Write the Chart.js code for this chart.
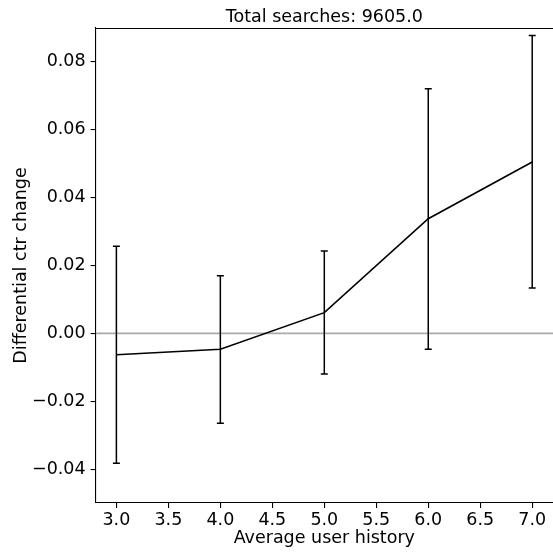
<!DOCTYPE html>
<html>
<head>
<meta charset="utf-8">
<script src="https://cdn.jsdelivr.net/npm/chart.js@4/dist/chart.umd.min.js"></script>
<style>
  html, body { margin: 0; padding: 0; background: #ffffff; }
  #wrap { width: 553px; height: 552px; }
</style>
</head>
<body>
<div id="wrap"><canvas id="c" width="553" height="552"></canvas></div>
<script>
// Average user history levels and the differential CTR change at each
const historyLevels = [3.0, 4.0, 5.0, 6.0, 7.0];
const ctrChange     = [-0.0063, -0.0047, 0.0061, 0.0338, 0.0505];
// Lower / upper ends of the error bars
const ctrLower      = [-0.0383, -0.0265, -0.0120, -0.0047, 0.0134];
const ctrUpper      = [0.0257, 0.0170, 0.0243, 0.0721, 0.0878];
// Axis tick values
const xTicks = [3.0, 3.5, 4.0, 4.5, 5.0, 5.5, 6.0, 6.5, 7.0];
const yTicks = [-0.04, -0.02, 0.00, 0.02, 0.04, 0.06, 0.08];
const totalSearches = 9605.0;

const X_MIN = 2.8, X_MAX = 7.2;
const Y_MIN = -0.050, Y_MAX = 0.090;

const FONT = { family: '"DejaVu Sans", sans-serif', size: 17.5 };
const INK = '#000000';

const linePoints = historyLevels.map((x, i) => ({ x, y: ctrChange[i] }));
const zeroPoints = [{ x: X_MIN, y: 0 }, { x: X_MAX, y: 0 }];

const fmtSigned = (v, d) => v.toFixed(d).replace('-', '\u2212');

// Vertical error bars with caps, positioned through the chart scales
const errorBars = {
  id: 'errorBars',
  afterDatasetsDraw(chart) {
    const { ctx, scales: { x, y } } = chart;
    ctx.save();
    ctx.strokeStyle = INK;
    ctx.lineWidth = 1.5;
    const cap = 3.5;
    historyLevels.forEach((hx, i) => {
      const px = x.getPixelForValue(hx);
      const top = y.getPixelForValue(ctrUpper[i]);
      const bot = y.getPixelForValue(ctrLower[i]);
      ctx.beginPath();
      ctx.moveTo(px, top); ctx.lineTo(px, bot);
      ctx.moveTo(px - cap, top); ctx.lineTo(px + cap, top);
      ctx.moveTo(px - cap, bot); ctx.lineTo(px + cap, bot);
      ctx.stroke();
    });
    ctx.restore();
  }
};

// Top spine and the heading centred over the plot area
const frameAndTitle = {
  id: 'frameAndTitle',
  afterDraw(chart) {
    const { ctx, chartArea: a } = chart;
    ctx.save();
    ctx.strokeStyle = INK;
    ctx.lineWidth = 1.1;
    ctx.beginPath();
    ctx.moveTo(a.left, a.top + 0.5);
    ctx.lineTo(a.right, a.top + 0.5);
    ctx.stroke();
    ctx.fillStyle = INK;
    ctx.font = `${FONT.size}px ${FONT.family}`;
    ctx.textAlign = 'center';
    ctx.textBaseline = 'alphabetic';
    ctx.fillText('Total searches: ' + totalSearches.toFixed(1), (a.left + a.right) / 2, 22);
    ctx.restore();
  }
};

new Chart(document.getElementById('c'), {
  type: 'scatter',
  data: {
    datasets: [
      {
        data: linePoints,
        showLine: true,
        borderColor: INK,
        borderWidth: 1.6,
        pointRadius: 0,
        tension: 0
      },
      {
        data: zeroPoints,
        showLine: true,
        borderColor: '#aaaaaa',
        borderWidth: 1.6,
        pointRadius: 0
      }
    ]
  },
  options: {
    responsive: false,
    animation: false,
    devicePixelRatio: 1,
    layout: { padding: { top: 28, left: 0, right: 0, bottom: 0 } },
    plugins: { legend: { display: false }, tooltip: { enabled: false }, title: { display: false } },
    scales: {
      x: {
        type: 'linear',
        min: X_MIN, max: X_MAX,
        afterBuildTicks: s => { s.ticks = xTicks.map(v => ({ value: v })); },
        afterFit: s => { s.height = 49; },
        grid: { display: true, drawOnChartArea: false, drawTicks: true, tickLength: 5, color: INK, lineWidth: 1.1 },
        border: { display: true, color: INK, width: 1.1 },
        ticks: { color: INK, font: FONT, padding: 2, maxRotation: 0, autoSkip: false,
                 callback: v => fmtSigned(v, 1) },
        title: { display: true, text: 'Average user history', color: INK, font: FONT,
                 padding: { top: 0, bottom: 3 } }
      },
      y: {
        type: 'linear',
        min: Y_MIN, max: Y_MAX,
        afterBuildTicks: s => { s.ticks = yTicks.map(v => ({ value: v })); },
        afterFit: s => { s.width = 95.6; },
        grid: { display: true, drawOnChartArea: false, drawTicks: true, tickLength: 5, color: INK, lineWidth: 1.1 },
        border: { display: true, color: INK, width: 1.1 },
        ticks: { color: INK, font: FONT, padding: 5, autoSkip: false,
                 callback: v => fmtSigned(v, 2) },
        title: { display: true, text: 'Differential ctr change', color: INK, font: FONT,
                 padding: { top: 11, bottom: 0 } }
      }
    }
  },
  plugins: [errorBars, frameAndTitle]
});
</script>
</body>
</html>
